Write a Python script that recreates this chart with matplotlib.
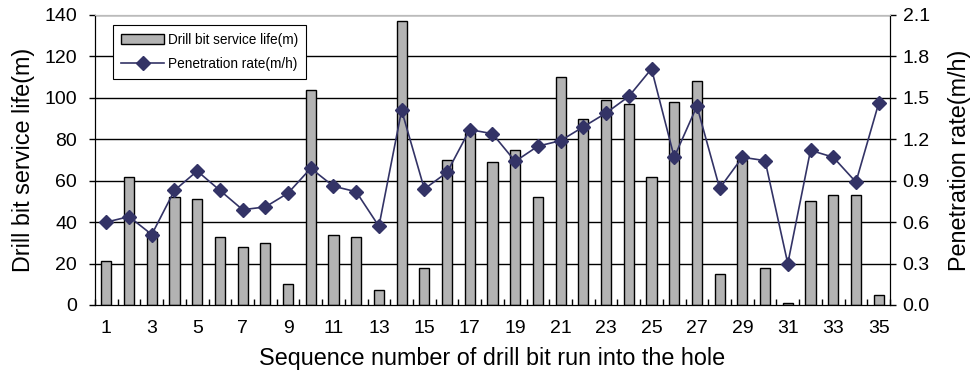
import matplotlib
matplotlib.use("Agg")
import matplotlib.pyplot as plt
import numpy as np
from matplotlib.ticker import MultipleLocator, FixedLocator

plt.rcParams['font.family'] = ['Liberation Sans', 'DejaVu Sans']

runs = list(range(1, 36))
service_life = [21, 62, 35, 52, 51, 33, 28, 30, 10, 104, 34, 33, 7, 137, 18, 70, 83, 69, 75, 52,
                110, 90, 99, 97, 62, 98, 108, 15, 70, 18, 1, 50, 53, 53, 5]
pen_rate = [0.60, 0.64, 0.51, 0.83, 0.97, 0.83, 0.69, 0.71, 0.81, 0.99, 0.86, 0.82, 0.57, 1.41,
            0.84, 0.96, 1.27, 1.24, 1.04, 1.15, 1.19, 1.29, 1.39, 1.51, 1.71, 1.07, 1.44, 0.845,
            1.07, 1.045, 0.30, 1.12, 1.07, 0.89, 1.46]
xtick_labels = [str(i) for i in range(1, 36, 2)]

fig = plt.figure(figsize=(9.71, 3.74), dpi=100)
ax = fig.add_axes([0.0978, 0.1845, 0.8188, 0.7755])
ax2 = ax.twinx()

ax.set_zorder(1)
ax2.set_zorder(2)
ax2.patch.set_visible(False)

for y in range(20, 141, 20):
    ax.axhline(y, color='black', lw=1.0, zorder=0)

bars = ax.bar(runs, service_life, width=0.45, color='#b3b3b3', edgecolor='black', lw=1.0, zorder=2,
              label='Drill bit service life(m)')
line, = ax2.plot(runs, pen_rate, color='#333366', lw=1.2, marker='D', markersize=7,
                 markerfacecolor='#333366', markeredgecolor='#333366', label='Penetration rate(m/h)')

ax.set_xlim(0.5, 35.5)
ax.set_ylim(0, 140)
ax2.set_ylim(0, 2.1)

ax.yaxis.set_major_locator(MultipleLocator(20))
ax2.yaxis.set_major_locator(MultipleLocator(0.3))
ax2.yaxis.set_major_formatter(matplotlib.ticker.FormatStrFormatter('%.1f'))

ax.set_xticks(list(range(1, 36, 2)))
ax.set_xticklabels(xtick_labels)
ax.xaxis.set_minor_locator(FixedLocator(np.arange(0.5, 36, 1)))
ax.tick_params(axis='x', which='major', length=0, labelsize=14, pad=11)
ax.tick_params(axis='x', which='minor', length=4, direction='in', width=1)
ax.tick_params(axis='y', labelsize=14, length=4, direction='out', width=1, pad=9)
ax2.tick_params(axis='y', labelsize=14, length=4, direction='out', width=1, pad=5)

for a in (ax, ax2):
    a.spines['top'].set_color('#bbbbbb')
    a.spines['left'].set_color('black')
    a.spines['right'].set_color('black')
    a.spines['bottom'].set_color('black')

ax.set_ylabel('Drill bit service life(m)', fontsize=16.8)
ax.yaxis.set_label_coords(-0.0755, 0.5)
ax2.set_ylabel('Penetration rate(m/h)', fontsize=16.8)
ax2.yaxis.set_label_coords(1.073, 0.5)
ax.set_xlabel('Sequence number of drill bit run into the hole', fontsize=16.8)
ax.xaxis.set_label_coords(0.5, -0.145)

leg = ax2.legend([bars, line], ['Drill bit service life(m)', 'Penetration rate(m/h)'],
                 loc='upper left', bbox_to_anchor=(0.023, 0.966), fontsize=9.8,
                 fancybox=False, edgecolor='black', framealpha=1, borderaxespad=0,
                 handlelength=3.1, handletextpad=0.3, borderpad=0.6, labelspacing=0.75)
leg.get_frame().set_linewidth(0.8)

fig.savefig('out.png', dpi=100)
